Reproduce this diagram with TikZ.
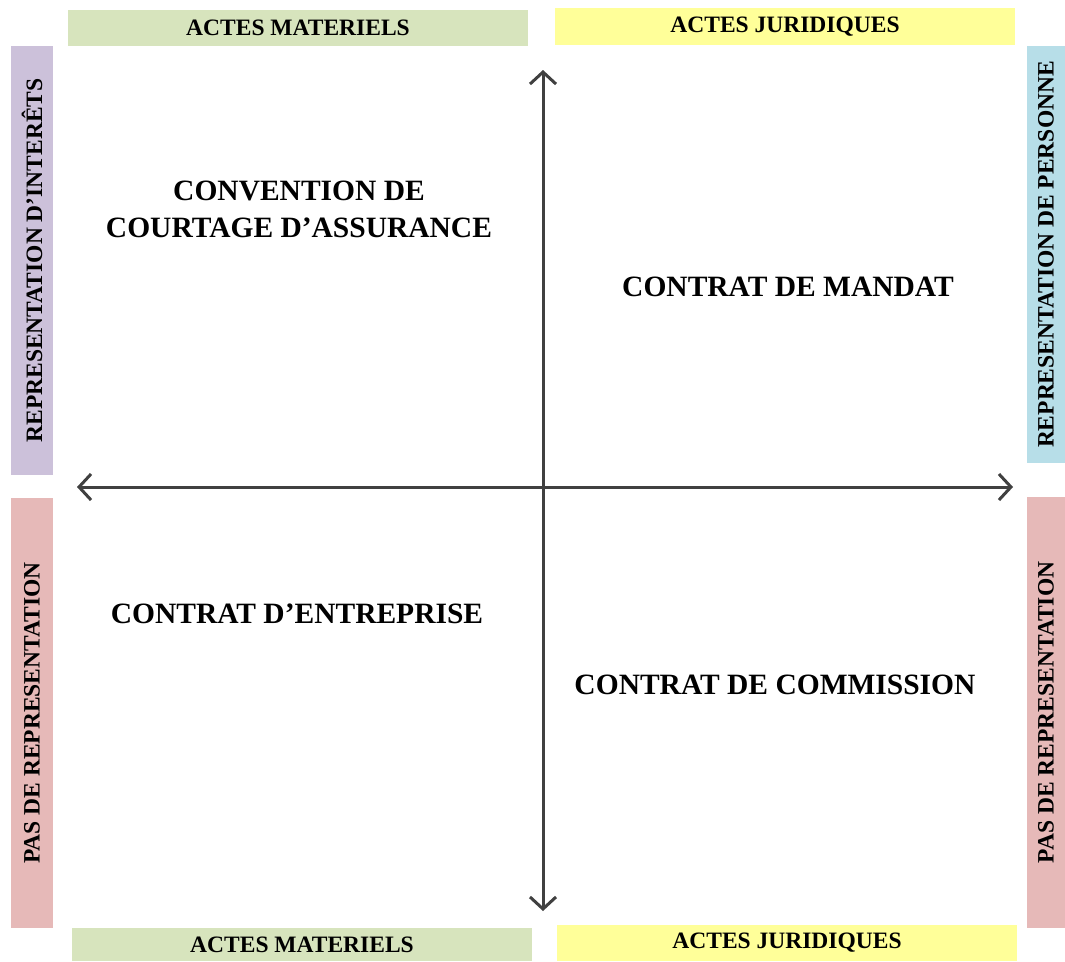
\documentclass[tikz,border=0pt]{standalone}
\usepackage{fontspec}
\setmainfont{Liberation Serif}
\usetikzlibrary{arrows.meta}
\definecolor{cgreen}{HTML}{D7E4BD}
\definecolor{cyellow}{HTML}{FFFF99}
\definecolor{cpurple}{HTML}{CCC1DA}
\definecolor{cblue}{HTML}{B7DEE8}
\definecolor{cpink}{HTML}{E6B9B8}
\definecolor{caxis}{HTML}{404040}
\tikzset{
  bar/.style={inner sep=0pt, outer sep=0pt, font=\fontsize{23.5}{24}\selectfont\bfseries, text=black},
  hbar/.style={bar, minimum width=460pt},
  vbar/.style={bar, rotate=90},
  quad/.style={font=\fontsize{29.5}{37}\selectfont\bfseries, align=center, text=black},
  axis/.style={draw=caxis, line width=3pt, {Straight Barb[length=12pt,width=26pt,line width=3pt]}-{Straight Barb[length=12pt,width=26pt,line width=3pt]}}
}
\begin{document}
\begin{tikzpicture}[x=1pt,y=-1pt]
\useasboundingbox (0,0) rectangle (1065,961);
% horizontal bars
\node[hbar, fill=cgreen, minimum height=36pt] (tg) at (298,28) {ACTES MATERIELS};
\node[hbar, fill=cyellow, minimum height=37pt] (ty) at (785,26.5) {ACTES JURIDIQUES};
\node[hbar, fill=cgreen, minimum height=33pt] (bg) at (302,944.5) {ACTES MATERIELS};
\node[hbar, fill=cyellow, minimum height=36pt] (by) at (787,943) {ACTES JURIDIQUES};
% vertical bars
\node[vbar, fill=cpurple, minimum width=429pt, minimum height=42pt] (lp) at (32,260.5) {REPRESENTATION D'INTERÊTS};
\node[vbar, fill=cblue, minimum width=417pt, minimum height=38pt] (rb) at (1046,254.5) {REPRESENTATION DE PERSONNE};
\node[vbar, fill=cpink, minimum width=430pt, minimum height=42pt] (lk) at (32,713) {PAS DE REPRESENTATION};
\node[vbar, fill=cpink, minimum width=431pt, minimum height=38pt] (rk) at (1046,712.5) {PAS DE REPRESENTATION};
% axes
\coordinate (top) at (543,70);
\coordinate (bot) at (543,911);
\coordinate (lft) at (77,487);
\coordinate (rgt) at (1013,487);
\draw[axis] (lft) -- (rgt);
\draw[axis] (top) -- (bot);
% quadrant texts
\node[quad] (q1) at (299,209) {CONVENTION DE\\COURTAGE D’ASSURANCE};
\node[quad] (q2) at (788,287) {CONTRAT DE MANDAT};
\node[quad] (q3) at (297,614) {CONTRAT D’ENTREPRISE};
\node[quad] (q4) at (775,685) {CONTRAT DE COMMISSION};
\end{tikzpicture}
\end{document}
